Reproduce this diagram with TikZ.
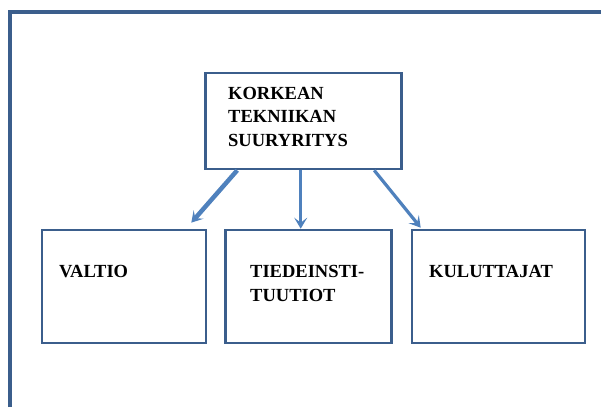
\documentclass[tikz,border=0pt]{standalone}
\usepackage{fontspec}
\setmainfont{Liberation Serif}
\usetikzlibrary{calc,arrows.meta}
\definecolor{frameblue}{HTML}{3B5E8C}
\definecolor{arrowblue}{HTML}{4F81BD}
\begin{document}
\begin{tikzpicture}[x=1pt,y=-1pt,
  box/.style={draw=frameblue,line width=2.6pt,inner sep=0pt,fill=white},
  lbl/.style={anchor=north west,inner sep=0pt,align=left,
    font=\bfseries\fontsize{18.5}{23.3}\selectfont},
  conn/.style={draw=arrowblue,line width=3.2pt,
    -{Stealth[length=11pt,width=13pt,inset=5pt]}}]
\useasboundingbox (0,0) rectangle (601,407);
% outer frame
\draw[frameblue,line width=3.8pt] (10,407) -- (10,12) -- (601,12);
% boxes
\node[box,minimum width=196pt,minimum height=96pt] (top) at (303.5,121) {};
\node[box,minimum width=164pt,minimum height=113pt] (valtio) at (124,286.5) {};
\node[box,minimum width=166pt,minimum height=113pt] (tiede) at (308.5,286.5) {};
\node[box,minimum width=173pt,minimum height=113pt] (kulut) at (498.5,286.5) {};
% texts
\node[lbl] (toptext) at (228,87) {KORKEAN\\TEKNIIKAN\\SUURYRITYS};
\node[lbl] (valtiotext) at (59,265.5) {VALTIO};
\node[lbl] (tiedetext) at (250,265.5) {TIEDEINSTI-\\TUUTIOT};
\node[lbl] (kuluttext) at (429,265.5) {KULUTTAJAT};
% connectors
\coordinate (a1) at ($(top.south west)+(33,0)$);
\coordinate (a2) at ($(top.south west)+(96.5,0)$);
\coordinate (a3) at ($(top.south west)+(170,0)$);
\draw[conn,line width=4.5pt] (a1) -- ($(valtio.north east)+(-16,-6)$);
\draw[conn] (a2) -- (a2 |- tiede.north);
\draw[conn] (a3) -- ($(kulut.north west)+(10,-1)$);
\end{tikzpicture}
\end{document}
